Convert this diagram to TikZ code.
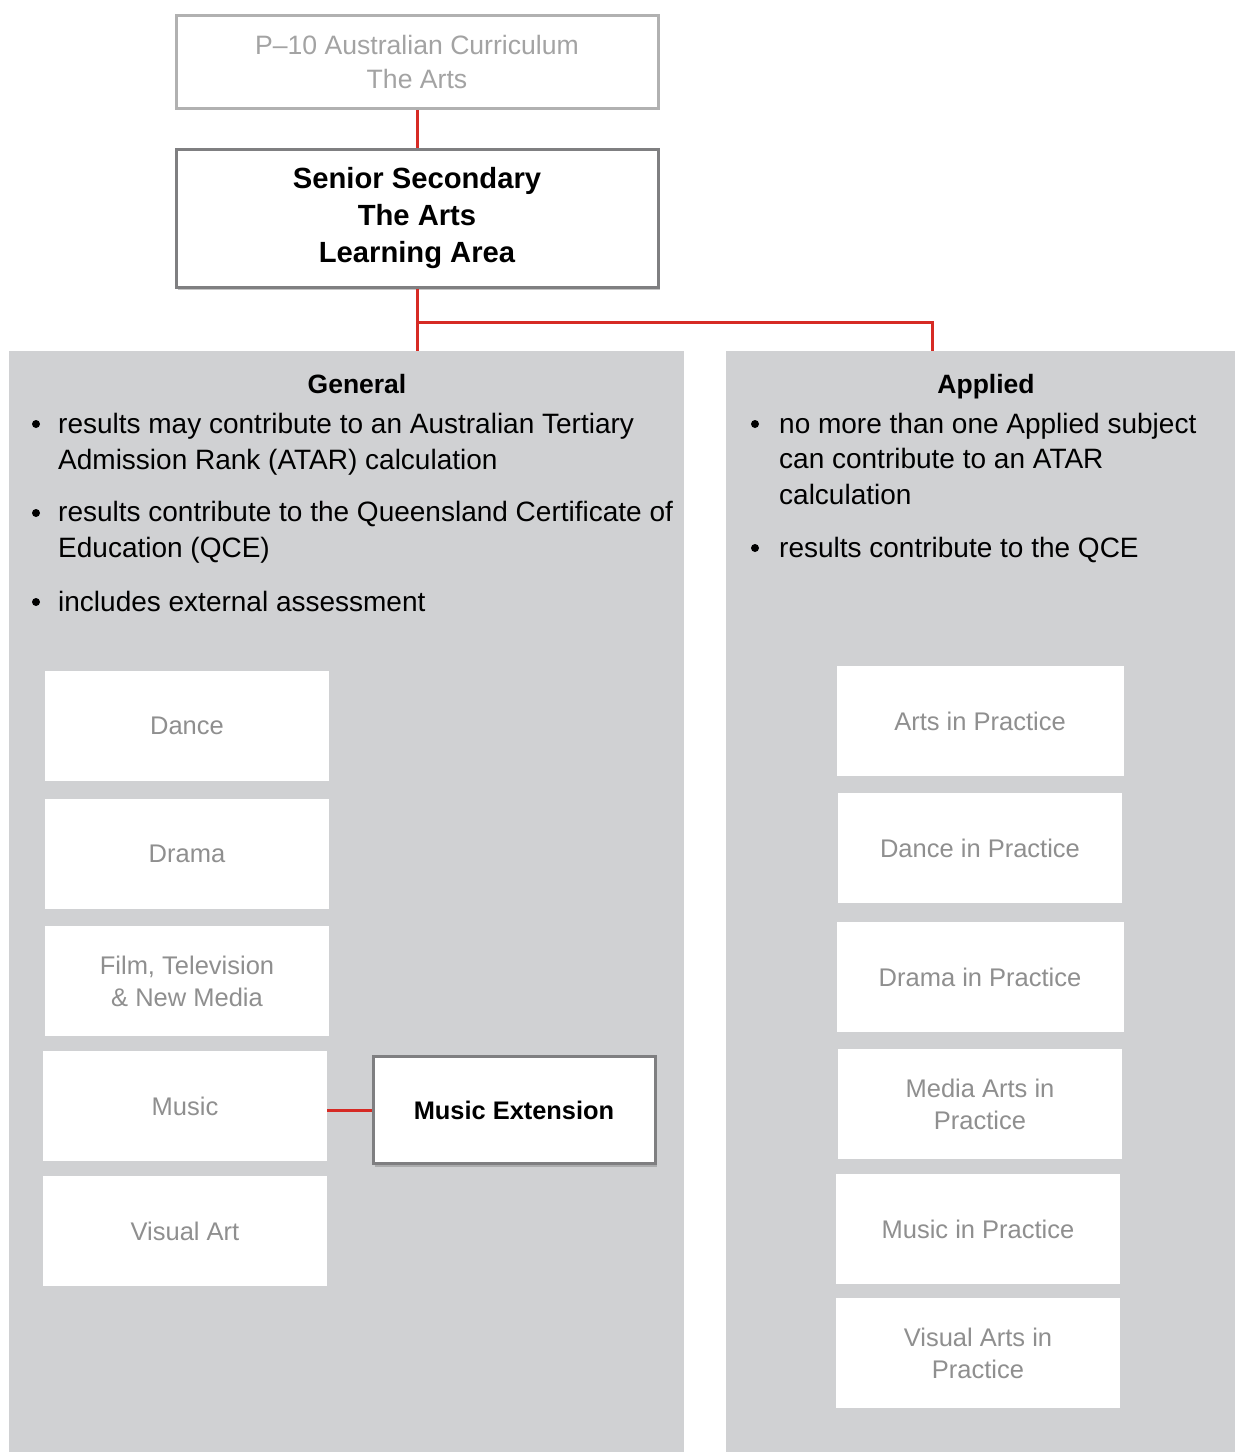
\documentclass[tikz,border=0pt]{standalone}
\usepackage{fontspec}
\setmainfont{Liberation Sans}
\usepackage{xcolor}
\usetikzlibrary{positioning, shadows}

\definecolor{panelgrey}{HTML}{D0D1D3}
\definecolor{qcaared}{HTML}{D62A24}
\definecolor{fadetext}{HTML}{A3A3A3}
\definecolor{subjtext}{HTML}{8F8F8F}
\definecolor{frame}{HTML}{7F7F81}

\begin{document}
\begin{tikzpicture}[
  x=1pt, y=-1pt,
  panel/.style={rectangle, fill=panelgrey, inner sep=0pt, anchor=north west},
  toplevel/.style={rectangle, draw=fadetext!85, line width=3pt, fill=white, minimum width=482pt, minimum height=93pt, align=center, text=fadetext, font=\fontsize{26.6}{34}\selectfont},
  hub/.style={rectangle, draw=frame, line width=3pt, fill=white, minimum width=482pt, minimum height=138pt, align=center, font=\bfseries\fontsize{29.2}{37}\selectfont, drop shadow={shadow xshift=2pt, shadow yshift=-3pt, opacity=0.45}},
  subject/.style={rectangle, fill=white, minimum width=284pt, minimum height=110pt, align=center, text=subjtext, font=\fontsize{25.5}{32}\selectfont},
  extbox/.style={rectangle, draw=frame, line width=3pt, fill=white, minimum width=282pt, minimum height=107pt, font=\bfseries\fontsize{25.4}{30}\selectfont, drop shadow={shadow xshift=2pt, shadow yshift=-3pt, opacity=0.45}},
  heading/.style={font=\bfseries\fontsize{26.5}{30}\selectfont, inner sep=0pt, anchor=base},
  dot/.style={circle, fill=black, inner sep=0pt, minimum size=8pt},
  point/.style={font=\fontsize{28}{35.5}\selectfont, inner sep=0pt, anchor=base west, align=left},
  link/.style={draw=qcaared, line width=3pt}
]
  \useasboundingbox (0,0) rectangle (1235,1452);

  % panels
  \node[panel, minimum width=675pt, minimum height=1101pt] (general) at (9,351) {};
  \node[panel, minimum width=509pt, minimum height=1101pt] (applied) at (726,351) {};

  % top of the tree
  \node[toplevel] (p10) at (417,62) {P--10 Australian Curriculum\\The Arts};
  \node[hub] (senior) at (417,218) {Senior Secondary\\The Arts\\Learning Area};

  % General column text (anchored on the last line)
  \node[heading] (genhead) at (357,393) {General};
  \node[dot] (gb1) at (36,424) {};
  \node[point] (gp1) at (58,469) {results may contribute to an Australian Tertiary\\Admission Rank (ATAR) calculation};
  \node[dot] (gb2) at (36,513) {};
  \node[point] (gp2) at (58,557) {results contribute to the Queensland Certificate of\\Education (QCE)};
  \node[dot] (gb3) at (36,602) {};
  \node[point] (gp3) at (58,611) {includes external assessment};

  % Applied column text
  \node[heading] (apphead) at (986,393) {Applied};
  \node[dot] (ab1) at (755,424) {};
  \node[point] (ap1) at (779,504) {no more than one Applied subject\\can contribute to an ATAR\\calculation};
  \node[dot] (ab2) at (755,548) {};
  \node[point] (ap2) at (779,557) {results contribute to the QCE};

  % General subjects
  \node[subject] (dance) at (187,726) {Dance};
  \node[subject] (drama) at (187,854) {Drama};
  \node[subject] (film) at (187,981) {Film, Television\\\& New Media};
  \node[subject] (music) at (185,1106) {Music};
  \node[subject] (visual) at (185,1231) {Visual Art};
  \node[extbox] (musicext) at (514,1110) {Music Extension};

  % Applied subjects
  \node[subject, minimum width=287pt] (artsprac) at (980,721) {Arts in Practice};
  \node[subject] (danceprac) at (980,848) {Dance in Practice};
  \node[subject, minimum width=287pt] (dramaprac) at (980,977) {Drama in Practice};
  \node[subject] (mediaprac) at (980,1104) {Media Arts in\\Practice};
  \node[subject] (musicprac) at (978,1229) {Music in Practice};
  \node[subject] (visualprac) at (978,1353) {Visual Arts in\\Practice};

  % connectors
  \coordinate (fork) at (417,322);
  \coordinate (appliedtop) at (932,351);
  \draw[link] (p10.south) -- (senior.north);
  \draw[link] (senior.south) -- (senior.south |- general.north);
  \draw[link] (fork) -| (appliedtop);
  \draw[link] (music.east |- musicext.west) -- (musicext.west);
\end{tikzpicture}
\end{document}
